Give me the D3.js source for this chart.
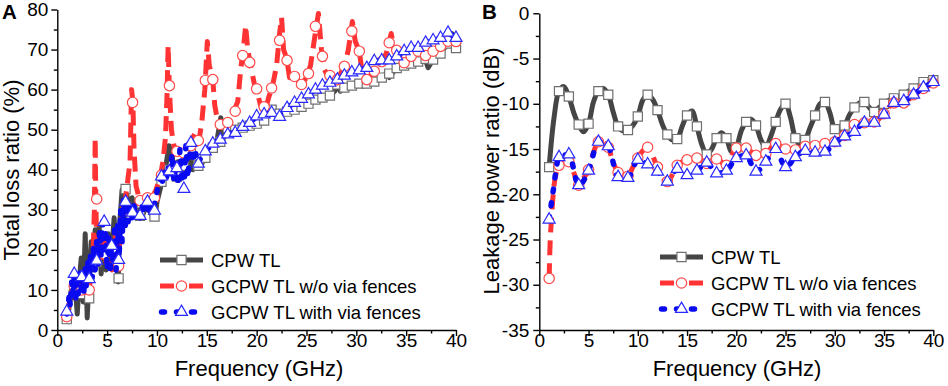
<!DOCTYPE html>
<html lang="en">
<head>
<meta charset="UTF-8">
<title>Total loss ratio and leakage power ratio</title>
<script src="https://d3js.org/d3.v7.min.js"></script>
<style>
  body { margin: 0; background: #fff; }
  svg { font-family: "Liberation Sans", Arial, sans-serif; }
  .axis path, .axis line { stroke: #000; stroke-width: 1.4px; }
  .axis text { font-size: 19px; fill: #000; font-family: "Liberation Sans", Arial, sans-serif; }
  .title { font-size: 22px; fill: #000; }
  .legend text { font-size: 18.5px; fill: #000; }
</style>
</head>
<body>
<svg width="948" height="386"></svg>
<script>
const seriesNames = ["CPW TL", "GCPW TL w/o via fences", "GCPW TL with via fences"];

// Panel A, total loss ratio (%) vs frequency (GHz)
const cpwA = [[0.95,1.5],[1.2,6],[1.4,10],[1.6,8],[1.8,11],[2.0,4],[2.2,12],[2.4,18],[2.6,7],[2.8,24],[3.0,3],[3.2,14],[3.4,22],[3.6,15],[3.8,25],[4.0,18],[4.2,26],[4.4,14],[4.6,23],[4.9,15],[5.1,24],[5.4,17],[5.7,28],[5.9,20],[6.1,12],[6.3,28],[6.5,35],[6.7,27],[6.9,35],[7.2,30],[7.5,33],[7.8,29],[8.2,30],[8.6,29],[9.0,31],[9.4,29],[9.8,28],[10.0,32],[10.3,35],[10.6,38],[10.9,41],[11.2,46],[11.5,44],[11.8,38],[12.1,42],[12.4,39],[12.7,43],[13.0,40],[13.3,44],[13.6,40],[14.0,42],[14.4,41],[14.8,43],[15.2,45],[15.6,45.5],[16.0,47],[16.4,53],[16.7,48],[17.1,50.4],[17.8,50],[18.6,50.5],[19.3,51],[20.0,51.5],[20.8,52.3],[21.5,55],[22.3,54],[23.0,54.5],[23.8,55],[24.5,55.7],[25.2,56.5],[25.9,57.5],[26.6,58],[27.3,58.5],[27.8,59.5],[28.1,61],[28.4,59.6],[28.8,60.5],[29.5,61],[30.3,61.5],[31.0,61.5],[31.8,62],[32.5,63],[33.0,64],[33.3,63],[34.0,65.4],[34.8,66],[35.5,66.5],[36.2,67],[36.9,67.7],[37.2,65.5],[37.7,67.5],[38.4,69],[39.2,71.5],[39.6,74],[40.0,70.4]];
const woA = [[0.95,3],[1.2,7],[1.5,10],[1.8,8],[2.1,12],[2.4,9],[2.7,14],[3.0,8],[3.3,12],[3.6,20],[3.72,30],[3.8,48],[3.86,33],[3.95,22],[4.3,18],[4.6,24],[4.9,17],[5.2,22],[5.5,15],[5.8,24],[6.1,16],[6.4,27],[6.7,30],[7.0,36],[7.3,42],[7.45,60],[7.58,57],[7.7,45],[7.9,36],[8.3,32],[8.7,33],[9.1,31],[9.5,33],[9.9,35],[10.3,38],[10.6,42],[10.85,48],[11.0,58],[11.12,71],[11.25,60],[11.45,50],[11.7,46],[12.0,44.6],[12.4,44],[12.7,44.2],[13.0,46],[13.4,47],[13.8,49],[14.2,47],[14.5,52],[14.8,60],[15.05,72],[15.25,66],[15.6,62.5],[15.8,56],[16.1,52],[16.4,51.3],[17.1,51.8],[17.6,54],[18.1,57],[18.4,65],[18.7,71],[18.9,76],[19.1,70],[19.4,66],[19.8,61],[20.0,60],[20.4,56],[20.8,54],[21.2,58],[21.6,61],[22.0,66],[22.3,74],[22.5,78],[22.7,70],[23.0,68],[23.3,63],[23.8,63.3],[24.5,61.3],[25.0,63],[25.4,66],[25.7,71],[26.0,76],[26.2,79],[26.5,70],[26.8,65],[27.2,63],[27.7,62],[28.2,63],[28.8,65.8],[29.2,70],[29.6,77],[29.9,72],[30.3,69.6],[30.6,64],[31.0,62.5],[31.8,64.6],[32.5,67],[33.0,69],[33.5,74],[33.8,70],[34.2,68.5],[34.8,66.7],[35.5,68.3],[36.2,69.6],[37.0,68.5],[37.7,69.6],[38.5,70.8],[39.2,72.1],[40.0,72]];
const withA = [[0.95,4],[1.1,6],[1.2,9],[1.3,6],[1.45,12],[1.55,9],[1.7,14],[1.85,8],[2.0,12],[2.1,9],[2.25,15],[2.4,10],[2.5,14],[2.65,9],[2.8,16],[2.9,11],[3.05,17],[3.2,12],[3.35,19],[3.5,13],[3.65,21],[3.8,15],[3.95,22],[4.1,16],[4.25,25],[4.4,18],[4.55,27],[4.7,20],[4.85,24],[5.0,15],[5.15,23],[5.3,14],[5.45,22],[5.6,16],[5.75,25],[5.9,15],[6.05,26],[6.2,18],[6.35,30],[6.5,22],[6.65,33],[6.8,25],[6.95,32],[7.1,27],[7.3,31],[7.5,28],[7.7,31],[7.9,28],[8.1,30],[8.3,28],[8.5,31],[8.7,29],[8.9,32],[9.1,30],[9.3,32],[9.5,29],[9.7,31],[9.9,33],[10.1,36],[10.3,38],[10.5,36],[10.7,40],[10.9,37],[11.1,41],[11.3,38],[11.5,44],[11.7,37],[11.9,42],[12.1,36],[12.3,45],[12.5,38],[12.7,35],[12.9,46],[13.1,38],[13.3,44],[13.5,47],[13.7,42],[13.9,44],[14.1,41.5],[14.4,43],[14.7,44],[15.0,45],[15.6,46.5],[16.4,47.5],[17.1,48.8],[17.9,49.5],[18.6,50.7],[19.3,51.7],[20.0,53.3],[20.75,53.8],[21.5,54.2],[22.3,53.4],[23.0,55.4],[23.8,56.7],[24.5,57.7],[25.2,58.8],[25.9,60],[26.6,61],[27.35,61.7],[28.1,62.5],[28.8,63.5],[29.55,64.3],[30.3,64.8],[31.0,65.4],[31.8,67],[32.5,67.3],[33.3,67.3],[34.0,68.3],[34.8,69.6],[35.5,70.4],[36.2,70.4],[37.0,71.7],[37.7,72.3],[38.4,72.9],[39.2,74.2],[40.0,72.9]];

// Panel A marker positions (GHz) and marker values (%)
const markFreqA = [0.95,1.7,2.45,3.2,3.95,4.7,5.45,6.15,6.85,7.55,8.3,9.05,9.75,10.45,11.25,12.0,12.7,13.4,14.15,14.85,15.6,16.35,17.1,17.85,18.6,19.3,20.0,20.75,21.5,22.3,23.05,23.8,24.5,25.2,25.9,26.6,27.35,28.1,28.8,29.55,30.3,31.05,31.8,32.55,33.3,34.05,34.8,35.5,36.2,36.95,37.7,38.45,39.2,40.0];
const cpwMarkA = [2.7,11,9,7.9,17,20,21,12.9,35.2,30,28.5,31,28.3,37,40,38.3,41,44,41,43,45.5,47,50.4,50,50.5,51,51.5,52.3,55,54,54.5,55,55.7,56.5,57.5,58,58.5,61.3,60.5,61,61.5,61.5,62,63,64,65.4,66,66.5,67,67.7,67.5,69,71.5,70.4];
const woMarkA = [3.3,11,10,10,32.7,19,20,16,30,56.8,32.3,33,33,38.7,61,44.6,44.2,46,47.3,62.3,62.5,51.3,51.8,54.6,68.5,66.8,60.2,55.7,60.4,72.3,67.3,63.3,61.3,64,75.8,68.3,63.5,62.5,65.8,74.6,69.6,62.5,64.6,67,71.7,69.8,66.7,68.3,69.6,68.5,69.6,70.8,72.1,72];
const withMarkA = [4.6,14,13.2,12.7,17.3,27,21,17.5,32,29.3,28.5,32,29.8,38.3,39.6,40.4,35.2,46.7,41.5,44.6,46.5,47.5,48.8,49.2,50.7,51.7,53.3,53.8,54.2,53.2,55.4,56.7,57.7,58.8,60,61,61.7,62.5,63.5,64.3,64.8,65.4,67.1,67.3,67.3,68.3,69.6,70.4,70.4,71.7,72.3,72.9,74.2,72.9];

// Panel B, leakage power ratio (dB); markers sit on the whole-GHz points
const cpwB = [[1,-17.0],[1.5,-11.5],[2,-8.6],[2.5,-8.1],[3,-9.2],[3.5,-11.0],[4,-12.3],[4.5,-13.1],[5,-12.2],[5.5,-9.8],[6,-8.6],[6.5,-8.3],[7,-9.0],[7.5,-10.9],[8,-12.5],[8.5,-13.0],[9,-12.9],[9.5,-12.4],[10,-11.4],[10.5,-9.6],[11,-9.0],[11.5,-9.5],[12,-10.7],[12.5,-12.3],[13,-13.4],[13.5,-14.0],[14,-13.9],[14.5,-12.5],[15,-11.3],[15.5,-10.8],[16,-12.5],[16.5,-14.5],[17,-15.6],[17.5,-15.0],[18,-13.8],[18.5,-13.2],[19,-13.8],[19.5,-15.3],[20,-14.8],[20.5,-13.0],[21,-12.0],[21.5,-11.7],[22,-12.4],[22.5,-14.0],[23,-14.8],[23.5,-13.6],[24,-12.0],[24.5,-10.6],[25,-10.0],[25.5,-11.5],[26,-13.8],[26.5,-14.5],[27,-14.0],[27.5,-12.6],[28,-11.3],[28.5,-10.0],[29,-9.8],[29.5,-11.0],[30,-12.8],[30.5,-13.0],[31,-12.4],[31.5,-11.2],[32,-10.4],[32.5,-9.9],[33,-9.8],[33.5,-10.4],[34,-10.9],[34.5,-10.4],[35,-10.0],[35.5,-9.6],[36,-9.4],[36.5,-9.2],[37,-9.0],[37.5,-8.6],[38,-8.3],[38.5,-8.0],[39,-7.6],[39.5,-7.5],[40,-7.4]];
const woB = [[1,-29.3],[1.05,-27],[1.25,-22.5],[1.5,-19],[1.75,-17.5],[2,-16.8],[2.5,-16.2],[3,-16.4],[3.5,-17.6],[4,-19.0],[4.5,-18.2],[5,-17.3],[5.5,-15.4],[6,-14.2],[6.5,-14.3],[7,-14.8],[7.5,-16.5],[8,-17.6],[8.5,-18.0],[9,-18.0],[9.5,-17.0],[10,-16.0],[10.5,-15.2],[11,-14.8],[12,-17.0],[13,-18.6],[14,-16.8],[15,-16.2],[16,-16.0],[17,-16.6],[18,-16.1],[19,-16.8],[20,-14.9],[21,-14.9],[22,-15.7],[23,-15.5],[24,-14.4],[25,-15.0],[26,-15.1],[27,-14.7],[28,-14.6],[29,-14.4],[30,-14.2],[31,-13.5],[32,-12.3],[33,-12.1],[34,-12.0],[35,-11.1],[36,-9.9],[37,-9.9],[38,-9.0],[39,-8.3],[40,-7.7]];
const withB = [[1,-22.8],[1.4,-19.7],[2,-15.9],[3,-15.6],[4,-19.0],[5,-17.4],[6,-14.2],[7,-14.7],[8,-18.1],[9,-18.2],[10,-16.2],[11,-16.7],[12,-17.5],[13,-18.6],[14,-17.2],[15,-17.9],[16,-17.4],[17,-16.5],[18,-17.7],[19,-17.4],[20,-16.0],[21,-15.7],[22,-17.5],[23,-16.4],[24,-15.0],[25,-17.0],[26,-15.9],[27,-15.2],[28,-15.4],[29,-15.3],[30,-14.3],[31,-13.6],[32,-13.1],[33,-12.1],[34,-12.1],[35,-11.2],[36,-9.9],[37,-9.7],[38,-9.0],[39,-8.2],[40,-7.6]];

const styles = [
  { color: "#454545", width: 5, dash: null, cap: "butt", symbol: d3.symbolSquare, size: 84, mstroke: "#707070", legendDash: null },
  { color: "#ff3333", width: 5, dash: "15,8", cap: "butt", symbol: d3.symbolCircle, size: 84, mstroke: "#ff4a4a", legendDash: "14,15,14" },
  { color: "#0a0af0", width: 5.5, dash: "3,11", cap: "round", symbol: d3.symbolTriangle, size: 62, mstroke: "#2a2aff", legendDash: "3,12" }
];

const svg = d3.select("svg");

function drawAxes(g, x, y, xMajor, xMinor, yMajor, yMinor, yGap) {
  const y0 = y.range()[0], x0 = x.range()[0];
  const fmt = d => String(d);
  const xa = g.append("g").attr("class", "axis").attr("transform", `translate(0,${y0})`)
    .call(d3.axisBottom(x).tickValues(xMajor).tickSize(6).tickSizeOuter(0).tickFormat(fmt));
  xa.selectAll("text").attr("y", 3);
  g.append("g").attr("class", "axis").attr("transform", `translate(0,${y0})`)
    .call(d3.axisBottom(x).tickValues(xMinor).tickSize(3.5).tickFormat(""))
    .call(a => a.select(".domain").remove());
  g.append("g").attr("class", "axis").attr("transform", `translate(${x0},0)`)
    .call(d3.axisLeft(y).tickValues(yMajor).tickSize(6).tickSizeOuter(0).tickPadding(yGap).tickFormat(fmt));
  g.append("g").attr("class", "axis").attr("transform", `translate(${x0},0)`)
    .call(d3.axisLeft(y).tickValues(yMinor).tickSize(3.5).tickFormat(""))
    .call(a => a.select(".domain").remove());
}

function drawSeries(g, x, y, data, st, curve) {
  const line = d3.line().x(d => x(d[0])).y(d => y(d[1])).curve(curve);
  g.append("path").datum(data)
    .attr("d", line)
    .attr("fill", "none")
    .attr("stroke", st.color)
    .attr("stroke-width", st.width)
    .attr("stroke-linejoin", "round")
    .attr("stroke-linecap", st.cap)
    .attr("stroke-dasharray", st.dash);
}

function drawMarkers(g, x, y, pts, st) {
  g.selectAll(null).data(pts).enter().append("path")
    .attr("transform", d => `translate(${x(d[0])},${y(d[1])})`)
    .attr("d", d3.symbol().type(st.symbol).size(st.size))
    .attr("fill", "#fff")
    .attr("stroke", st.mstroke)
    .attr("stroke-width", 1.2);
}

function drawLegend(g, lx, ly) {
  const leg = g.append("g").attr("class", "legend");
  seriesNames.forEach((name, i) => {
    const st = styles[i], yy = ly + i * 26;
    leg.append("line")
      .attr("x1", st.cap === "round" ? lx + 1.5 : lx).attr("x2", lx + 43)
      .attr("y1", yy).attr("y2", yy)
      .attr("stroke", st.color).attr("stroke-width", st.width)
      .attr("stroke-linecap", st.cap)
      .attr("stroke-dasharray", st.legendDash);
    leg.append("path")
      .attr("transform", `translate(${lx + 21.5},${yy})`)
      .attr("d", d3.symbol().type(st.symbol).size(st.size))
      .attr("fill", "#fff").attr("stroke", st.mstroke).attr("stroke-width", 1.2);
    leg.append("text").attr("x", lx + 51).attr("y", yy + 6.5).text(name);
  });
}

// ---- Panel A ----
const xA = d3.scaleLinear().domain([0, 40]).range([57.3, 456]);
const yA = d3.scaleLinear().domain([0, 80]).range([330, 9.5]);
const gA = svg.append("g");
drawAxes(gA, xA, yA, d3.range(0, 41, 5), d3.range(2.5, 40, 5), d3.range(0, 81, 10), d3.range(5, 80, 10), 3);

const linesA = [cpwA, woA, withA];
const marksA = [cpwMarkA, woMarkA, withMarkA];
linesA.forEach((data, i) => {
  drawSeries(gA, xA, yA, data, styles[i], d3.curveLinear);
  drawMarkers(gA, xA, yA, markFreqA.map((f, k) => [f, marksA[i][k]]), styles[i]);
});
drawLegend(gA, 160, 260);

gA.append("text").attr("class", "title").attr("text-anchor", "middle")
  .attr("x", 259).attr("y", 376).text("Frequency (GHz)");
gA.append("text").attr("class", "title").attr("text-anchor", "middle")
  .attr("transform", "translate(18.5,170) rotate(-90)").text("Total loss ratio (%)");
gA.append("text").attr("x", 2).attr("y", 19).attr("font-weight", "bold")
  .attr("font-size", 20.5).text("A");

// ---- Panel B ----
const xB = d3.scaleLinear().domain([0, 40]).range([539.3, 933.3]);
const yB = d3.scaleLinear().domain([-35, 0]).range([330, 13.3]);
const gB = svg.append("g");
drawAxes(gB, xB, yB, d3.range(0, 41, 5), d3.range(2.5, 40, 5), d3.range(-35, 1, 5), d3.range(-32.5, 0, 5), 4);

const linesB = [cpwB, woB, withB];
const curvesB = [d3.curveCatmullRom, d3.curveMonotoneX, d3.curveMonotoneX];
linesB.forEach((data, i) => {
  drawSeries(gB, xB, yB, data, styles[i], curvesB[i]);
  drawMarkers(gB, xB, yB, data.filter(d => Number.isInteger(d[0])), styles[i]);
});
drawLegend(gB, 660, 257);

gB.append("text").attr("class", "title").attr("text-anchor", "middle")
  .attr("x", 737).attr("y", 376).text("Frequency (GHz)");
gB.append("text").attr("class", "title").attr("text-anchor", "middle")
  .attr("transform", "translate(498.5,171) rotate(-90)").text("Leakage power ratio (dB)");
gB.append("text").attr("x", 482).attr("y", 19).attr("font-weight", "bold")
  .attr("font-size", 20.5).text("B");
</script>
</body>
</html>
